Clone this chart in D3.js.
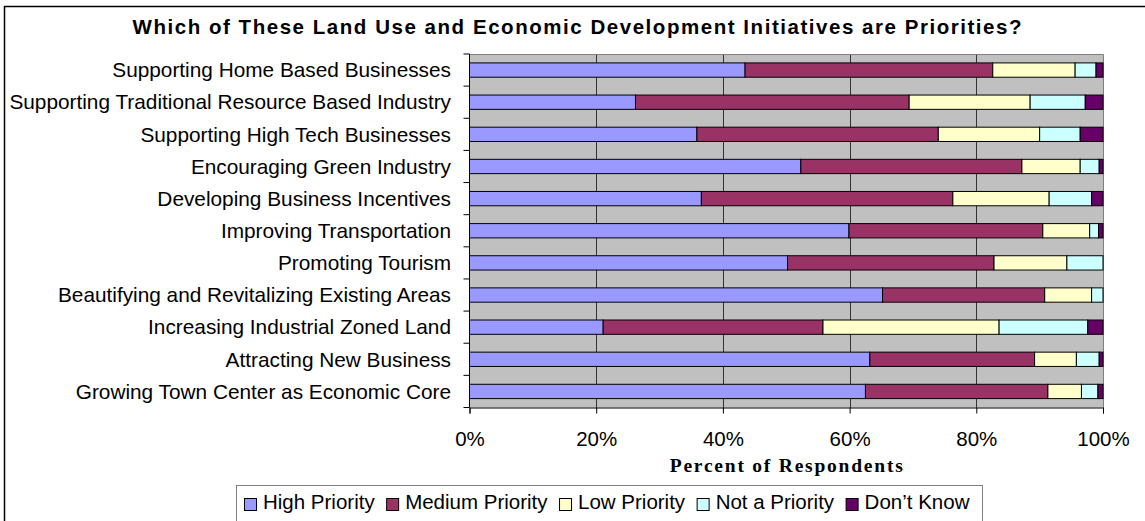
<!DOCTYPE html>
<html>
<head>
<meta charset="utf-8">
<script src="https://cdnjs.cloudflare.com/ajax/libs/d3/7.8.5/d3.min.js"></script>
<style>
  body { margin: 0; background: #fff; }
  text { font-family: "Liberation Sans", Arial, sans-serif; fill: #000; }
</style>
</head>
<body>
<div id="chart"></div>
<script>
// categories, top to bottom
var categories = [
    "Supporting Home Based Businesses",
    "Supporting Traditional Resource Based Industry",
    "Supporting High Tech Businesses",
    "Encouraging Green Industry",
    "Developing Business Incentives",
    "Improving Transportation",
    "Promoting Tourism",
    "Beautifying and Revitalizing Existing Areas",
    "Increasing Industrial Zoned Land",
    "Attracting New Business",
    "Growing Town Center as Economic Core"
];

var seriesNames = ["High Priority", "Medium Priority", "Low Priority", "Not a Priority", "Don\u2019t Know"];

// percent of respondents per series
var highPriority   = [43.5, 26.2, 35.9, 52.3, 36.6, 59.9, 50.2, 65.2, 21.1, 63.2, 62.5];
var mediumPriority = [39.1, 43.2, 38.1, 34.9, 39.7, 30.6, 32.6, 25.6, 34.7, 26.0, 28.8];
var lowPriority    = [13.0, 19.1, 16.0,  9.2, 15.2,  7.4, 11.5,  7.4, 27.8,  6.6,  5.3];
var notAPriority   = [ 3.3,  8.7,  6.4,  3.0,  6.7,  1.4,  5.7,  1.8, 14.0,  3.6,  2.6];
var dontKnow       = [ 1.1,  2.8,  3.6,  0.6,  1.8,  0.7,  0.0,  0.0,  2.4,  0.6,  0.8];

var xTicks = [0, 20, 40, 60, 80, 100];

var colors = ["#9999ff", "#993366", "#ffffcc", "#ccffff", "#660066"];

var width = 1145;
var height = 521;

var plotLeft = 469.5;
var plotRight = 1103;
var plotTop = 54;
var plotBottom = 407.5;

// build a table for d3.stack
var allSeries = [highPriority, mediumPriority, lowPriority, notAPriority, dontKnow];
var table = categories.map(function (c, i) {
    var row = { category: c };
    seriesNames.forEach(function (s, j) { row[s] = allSeries[j][i]; });
    return row;
});

var stacked = d3.stack().keys(seriesNames)(table);

var x = d3.scaleLinear().domain([0, 100]).range([plotLeft, plotRight]);
var y = d3.scaleBand().domain(categories).range([plotTop, plotBottom])
    .paddingInner(0.555).paddingOuter(0.2775);
var yBounds = d3.scaleLinear().domain([0, categories.length]).range([plotTop, plotBottom]);

var svg = d3.select('#chart')
    .append('svg')
    .attr('width', width)
    .attr('height', height);

// outer frame (runs off the picture to the right and bottom)
svg.append('rect')
    .attr('x', 4.5).attr('y', 6.5)
    .attr('width', 1146).attr('height', 530)
    .attr('fill', '#fff')
    .attr('stroke', '#000')
    .attr('stroke-width', 1.5);

// title
svg.append('text')
    .attr('x', 577)
    .attr('y', 34)
    .attr('text-anchor', 'middle')
    .attr('textLength', 889)
    .attr('lengthAdjust', 'spacing')
    .style('font-size', '20.5px')
    .style('font-weight', 'bold')
    .text('Which of These Land Use and Economic Development Initiatives are Priorities?');

// plot background
svg.append('rect')
    .attr('x', plotLeft).attr('y', plotTop)
    .attr('width', plotRight - plotLeft).attr('height', plotBottom - plotTop)
    .attr('fill', '#c0c0c0');

// vertical gridlines
svg.selectAll('.grid')
    .data(xTicks.filter(function (d) { return d > 0 && d < 100; }))
    .enter()
    .append('line')
    .attr('x1', function (d) { return Math.round(x(d)) + 0.5; })
    .attr('x2', function (d) { return Math.round(x(d)) + 0.5; })
    .attr('y1', plotTop).attr('y2', plotBottom)
    .attr('stroke', '#333')
    .attr('stroke-width', 1);

// top and right border of plot
svg.append('path')
    .attr('d', 'M' + plotLeft + ',' + (plotTop + 0.5) + 'H' + (plotRight + 0.5) + 'V' + plotBottom)
    .attr('fill', 'none')
    .attr('stroke', '#808080')
    .attr('stroke-width', 1);

// bars
var groups = svg.selectAll('.series')
    .data(stacked)
    .enter()
    .append('g')
    .attr('fill', function (d, i) { return colors[i]; });

groups.selectAll('rect')
    .data(function (d) { return d.filter(function (p) { return p[1] - p[0] > 0; }); })
    .enter()
    .append('rect')
    .attr('x', function (d) { return x(d[0]); })
    .attr('y', function (d) { return y(d.data.category); })
    .attr('width', function (d) { return x(d[1]) - x(d[0]); })
    .attr('height', y.bandwidth())
    .attr('stroke', '#000')
    .attr('stroke-width', 1);

// y axis line and category boundary ticks
svg.append('line')
    .attr('x1', plotLeft).attr('x2', plotLeft)
    .attr('y1', plotTop).attr('y2', plotBottom)
    .attr('stroke', '#000');

svg.selectAll('.ytick')
    .data(d3.range(categories.length + 1))
    .enter()
    .append('line')
    .attr('x1', plotLeft - 6).attr('x2', plotLeft)
    .attr('y1', function (d) { return yBounds(d); })
    .attr('y2', function (d) { return yBounds(d); })
    .attr('stroke', '#000');

// category labels
svg.selectAll('.ylabel')
    .data(categories)
    .enter()
    .append('text')
    .attr('x', 451)
    .attr('y', function (d) { return y(d) + y.bandwidth() / 2; })
    .attr('dy', '0.35em')
    .attr('text-anchor', 'end')
    .style('font-size', '20.8px')
    .text(function (d) { return d; });

// x axis
var xAxis = d3.axisBottom(x)
    .tickValues(xTicks)
    .tickSize(6)
    .tickPadding(18)
    .tickFormat(function (d) { return d + '%'; });

var gx = svg.append('g')
    .attr('transform', 'translate(0,' + plotBottom + ')')
    .call(xAxis);
gx.select('.domain').attr('stroke', '#000');
gx.selectAll('line').attr('stroke', '#000');
gx.selectAll('text')
    .style('font-size', '20.5px')
    .style('font-family', '"Liberation Sans", Arial, sans-serif');

// x axis title
svg.append('text')
    .attr('x', (plotLeft + plotRight) / 2)
    .attr('y', 472)
    .attr('text-anchor', 'middle')
    .attr('textLength', 233)
    .attr('lengthAdjust', 'spacing')
    .style('font-family', '"Liberation Serif", "Times New Roman", serif')
    .style('font-weight', 'bold')
    .style('font-size', '19.5px')
    .text('Percent of Respondents');

// legend
svg.append('rect')
    .attr('x', 236.5).attr('y', 485.5)
    .attr('width', 746).attr('height', 60)
    .attr('fill', '#fff')
    .attr('stroke', '#808080')
    .attr('stroke-width', 1);

var legend = svg.append('g');
var lx = 244;
seriesNames.forEach(function (s, i) {
    legend.append('rect')
        .attr('x', lx + 0.5).attr('y', 498.5)
        .attr('width', 12).attr('height', 12)
        .attr('fill', colors[i])
        .attr('stroke', '#000');
    var t = legend.append('text')
        .attr('x', lx + 19)
        .attr('y', 509)
        .style('font-size', '20.5px')
        .text(s);
    lx += 19 + t.node().getComputedTextLength() + 11.5;
});
</script>
</body>
</html>
